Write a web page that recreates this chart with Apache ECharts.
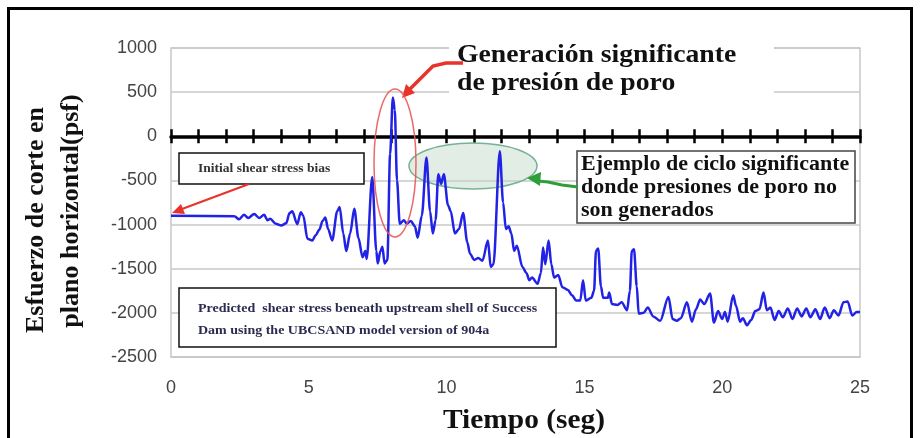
<!DOCTYPE html>
<html>
<head>
<meta charset="utf-8">
<script src="https://cdn.jsdelivr.net/npm/echarts@6/dist/echarts.min.js"></script>
<style>html,body{margin:0;padding:0;background:#fff;}#c{width:920px;height:438px;}</style>
</head>
<body>
<div id="c"></div>
<script>
// ---- data ----
const timeSec = [
  0, 2.3, 2.47, 2.65, 2.8, 3.02, 3.2, 3.38, 3.5, 3.6, 3.8, 4.0, 4.18, 4.3, 4.4, 4.58, 4.71, 4.8, 4.95, 5.13,
  5.25, 5.38, 5.5, 5.6, 5.7, 5.85, 6.03, 6.12, 6.25, 6.36, 6.5, 6.65, 6.8, 6.95, 7.05, 7.1, 7.3, 7.45, 7.5, 7.6,
  7.67, 7.75, 7.85, 7.95, 8.05, 8.12, 8.2, 8.3, 8.45, 8.55, 8.7, 8.85, 8.95, 9.1, 9.27, 9.4, 9.5, 9.6, 9.7, 9.8,
  9.9, 10.05, 10.15, 10.3, 10.45, 10.6, 10.75, 10.85, 11.0, 11.15, 11.3, 11.5, 11.6, 11.7, 11.93, 12.05, 12.15, 12.25, 12.35, 12.45,
  12.55, 12.75, 12.9, 13.0, 13.1, 13.3, 13.42, 13.5, 13.58, 13.7, 13.8, 13.9, 14.05, 14.2, 14.4, 14.55, 14.7, 14.85, 14.95, 15.05,
  15.25, 15.35, 15.42, 15.5, 15.6, 15.68, 15.85, 15.9, 16.0, 16.2, 16.35, 16.55, 16.65, 16.72, 16.8, 16.9, 16.97, 17.15, 17.3, 17.5,
  17.75, 18.05, 18.2, 18.35, 18.5, 18.72, 18.9, 19.05, 19.2, 19.35, 19.56, 19.7, 19.85, 20.0, 20.1, 20.2, 20.4, 20.5, 20.65, 20.75,
  20.9, 21.05, 21.2, 21.35, 21.5, 21.62, 21.75, 21.9, 22.05, 22.2, 22.38, 22.55, 22.72, 22.88, 23.05, 23.2, 23.38, 23.55, 23.72, 23.9,
  24.05, 24.22, 24.4, 24.55, 24.72, 24.88, 25.0
];
const shearStress = [
  -900, -905, -940, -890, -925, -880, -925, -890, -950, -935, -990, -1010, -985, -870, -850, -995, -860, -900, -1160, -1180,
  -1120, -1060, -960, -920, -1050, -1180, -850, -800, -1100, -1300, -1100, -820, -1150, -1370, -1300, -1390, -460, -1300, -1440, -1300,
  -1250, -1440, -1400, -200, 440, 300, -500, -990, -950, -990, -960, -1020, -1150, -900, -240, -850, -1100, -950, -430, -540,
  -430, -780, -850, -1100, -1050, -870, -1200, -1330, -1400, -1380, -1410, -1180, -1480, -1450, -170, -750, -1050, -1020, -1100, -1300,
  -1240, -1480, -1550, -1630, -1600, -1670, -1550, -1260, -1450, -1180, -1450, -1600, -1570, -1710, -1740, -1800, -1860, -1860, -1630, -1860,
  -1830, -1750, -1300, -1270, -1700, -1830, -1830, -1770, -1900, -1910, -1880, -1970, -1750, -1300, -1280, -1700, -2010, -2000, -1940, -2040,
  -2090, -1820, -2070, -2090, -2060, -1880, -2100, -1960, -1850, -1900, -1780, -2110, -1980, -2070, -1990, -2100, -1800, -1920, -2100, -2060,
  -2140, -2080, -1980, -1960, -1770, -1970, -1940, -2080, -1980, -2050, -1950, -2070, -1950, -2040, -1950, -2050, -1960, -2070, -1940, -2060,
  -1970, -2030, -1880, -1870, -2030, -1990, -1990
];
const yTicks = { min: -2500, max: 1000, step: 500 };
const xTicks = { min: 0, max: 25, step: 5, minorStep: 1 };
const yTitle = ['Esfuerzo de corte en', 'plano horizontal(psf)'];
const xTitle = 'Tiempo (seg)';
const note1 = ['Generación significante', 'de presión de poro'];
const note2 = ['Ejemplo de ciclo significante', 'donde presiones de poro no', 'son generados'];
const note3 = 'Initial shear stress bias';
const note4 = ['Predicted  shear stress beneath upstream shell of Success', 'Dam using the UBCSAND model version of 904a'];

// ---- chart ----
const chart = echarts.init(document.getElementById('c'), null, { renderer: 'canvas' });
const seriesData = timeSec.map((t, i) => [t, shearStress[i]]);
const serif = '"Liberation Serif", "Times New Roman", serif';
const sans = '"Liberation Sans", Arial, sans-serif';
const red = '#e8322a';
const green = '#2e9e3a';
const plain = v => String(v);

const zeroAxisBase = {
  type: 'value', min: xTicks.min, max: xTicks.max, interval: xTicks.minorStep,
  position: 'bottom',
  axisLabel: { show: false }, splitLine: { show: false }
};

function txt(x, y, text, font, fill, extra) {
  return Object.assign({ type: 'text', z: 6, x: x, y: y,
    style: { text: text, font: font, fill: fill, verticalAlign: 'middle' } }, extra || {});
}

chart.setOption({
  animation: false,
  backgroundColor: '#ffffff',
  grid: { left: 171, right: 60, top: 48, bottom: 81, show: true, borderColor: '#c8c8c8', borderWidth: 1.5, backgroundColor: 'transparent' },
  xAxis: [
    {
      type: 'value', min: xTicks.min, max: xTicks.max, interval: xTicks.step, position: 'bottom',
      axisLine: { onZero: false, lineStyle: { color: '#c8c8c8', width: 1.5 } },
      axisTick: { show: false },
      splitLine: { show: false },
      axisLabel: { fontFamily: sans, fontSize: 18, color: '#444', margin: 22, formatter: plain }
    },
    Object.assign({}, zeroAxisBase, {
      axisLine: { onZero: true, onZeroAxisIndex: 0, lineStyle: { color: '#000', width: 3.5 } },
      axisTick: { show: true, length: 7, lineStyle: { color: '#000', width: 2.5 } }
    }),
    Object.assign({}, zeroAxisBase, {
      axisLine: { show: false, onZero: true, onZeroAxisIndex: 0 },
      axisTick: { show: true, inside: true, length: 7, lineStyle: { color: '#000', width: 2.5 } }
    })
  ],
  yAxis: {
    type: 'value', min: yTicks.min, max: yTicks.max, interval: yTicks.step,
    axisLine: { show: false, onZero: false }, axisTick: { show: false },
    splitLine: { lineStyle: { color: '#c8c8c8', width: 1.5 } },
    axisLabel: { fontFamily: sans, fontSize: 18, color: '#444', margin: 14, formatter: plain }
  },
  series: [{
    type: 'line', data: seriesData, showSymbol: false, symbol: 'none', z: 3,
    smooth: 0.3, smoothMonotone: 'x',
    lineStyle: { color: '#2222e6', width: 2.5 }
  }],
  graphic: [
    // green ellipse (under the data)
    { type: 'ellipse', z: 1, shape: { cx: 473, cy: 166, rx: 64, ry: 23 },
      style: { fill: 'rgba(190,215,200,0.45)', stroke: '#78b294', lineWidth: 1.5 } },
    // white patch behind title note
    { type: 'rect', z: 5, shape: { x: 449, y: 36, width: 325, height: 64 }, style: { fill: '#fff' } },
    txt(457, 55, note1[0], 'bold 26px ' + serif, '#111', { scaleX: 1.065 }),
    txt(457, 83, note1[1], 'bold 26px ' + serif, '#111', { scaleX: 1.065 }),
    // red arrow to main peak
    { type: 'polyline', z: 7, shape: { points: [[463, 63], [446, 63], [433, 66], [409, 90]] },
      style: { stroke: red, lineWidth: 3.5, fill: null } },
    { type: 'polygon', z: 7, shape: { points: [[402, 98], [415, 93], [406, 84]] }, style: { fill: red } },
    // red ellipse
    { type: 'ellipse', z: 7, shape: { cx: 395, cy: 163, rx: 21, ry: 74 },
      style: { fill: null, stroke: 'rgba(232,90,90,0.9)', lineWidth: 1.5 } },
    // green arrow
    { type: 'polyline', z: 7, shape: { points: [[578, 187], [562, 185], [548, 182], [538, 181]] },
      style: { stroke: green, lineWidth: 3, fill: null } },
    { type: 'polygon', z: 7, shape: { points: [[527, 178], [541, 172], [540, 186]] }, style: { fill: green } },
    // example box
    { type: 'rect', z: 5, shape: { x: 577, y: 151, width: 278, height: 72 },
      style: { fill: '#fff', stroke: '#444', lineWidth: 1.5 } },
    txt(581, 165, note2[0], 'bold 20px ' + serif, '#111', { scaleX: 1.1 }),
    txt(581, 188, note2[1], 'bold 20px ' + serif, '#111', { scaleX: 1.1 }),
    txt(581, 211, note2[2], 'bold 20px ' + serif, '#111', { scaleX: 1.1 }),
    // initial bias box
    { type: 'rect', z: 5, shape: { x: 179, y: 153, width: 185, height: 31 },
      style: { fill: '#fff', stroke: '#111', lineWidth: 1.5 } },
    txt(198, 169, note3, 'bold 12.5px ' + serif, '#333', { scaleX: 1.08 }),
    { type: 'line', z: 7, shape: { x1: 249, y1: 184, x2: 182, y2: 209 }, style: { stroke: red, lineWidth: 2 } },
    { type: 'polygon', z: 7, shape: { points: [[172, 213], [185, 214], [181, 204]] }, style: { fill: red } },
    // predicted box
    { type: 'rect', z: 5, shape: { x: 179, y: 288, width: 377, height: 59 },
      style: { fill: '#fff', stroke: '#111', lineWidth: 1.5 } },
    txt(198, 309, note4[0], 'bold 12.5px ' + serif, '#2c2c50', { scaleX: 1.12 }),
    txt(198, 331, note4[1], 'bold 12.5px ' + serif, '#2c2c50', { scaleX: 1.12 }),
    // axis titles
    { type: 'text', z: 6, x: 36, y: 220, rotation: Math.PI / 2,
      style: { text: yTitle[0], font: 'bold 26px ' + serif, fill: '#111', align: 'center', verticalAlign: 'middle' } },
    { type: 'text', z: 6, x: 71, y: 211, rotation: Math.PI / 2,
      style: { text: yTitle[1], font: 'bold 26px ' + serif, fill: '#111', align: 'center', verticalAlign: 'middle' } },
    { type: 'text', z: 6, x: 524, y: 421, scaleX: 1.09,
      style: { text: xTitle, font: 'bold 27px ' + serif, fill: '#111', align: 'center', verticalAlign: 'middle' } },
    // outer frame
    { type: 'rect', z: 10, shape: { x: 8.5, y: 8.5, width: 903, height: 460 },
      style: { fill: null, stroke: '#000', lineWidth: 3 } }
  ]
});
</script>
</body>
</html>
